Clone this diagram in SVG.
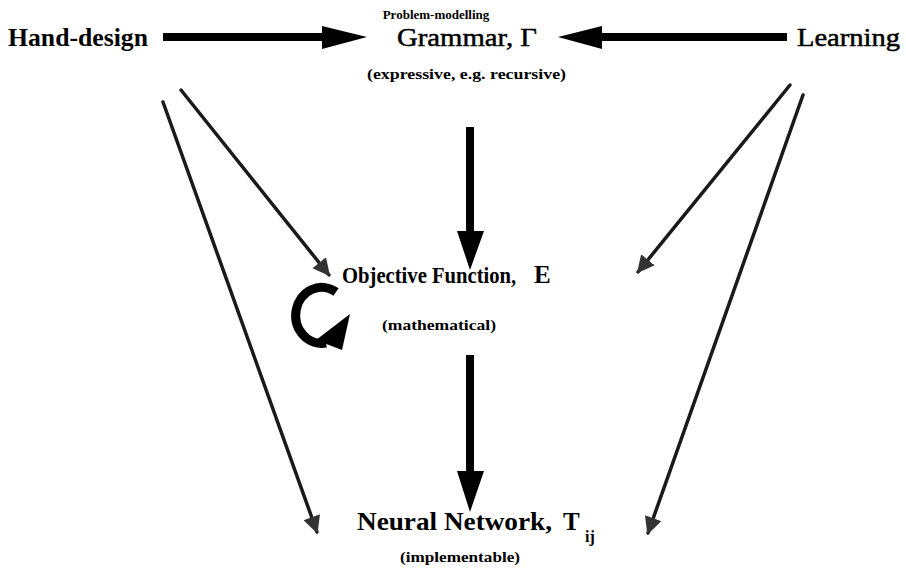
<svg xmlns="http://www.w3.org/2000/svg" width="906" height="583" viewBox="0 0 906 583">
<style>
text{font-family:"Liberation Serif","Times New Roman",serif;fill:#000}
.big{font-size:25px;font-weight:bold}
.reg{font-size:26px;font-weight:normal;stroke:#000;stroke-width:0.5}
.small{font-size:14px;font-weight:bold}
.thin{stroke:#1a1a1a;stroke-width:3.5;fill:none;stroke-linecap:round}
.thick{fill:#000}
</style>
<defs>
<marker id="ah" viewBox="0 0 10 10" refX="9" refY="5" markerWidth="5" markerHeight="5" orient="auto" markerUnits="strokeWidth">
<path d="M0,0 L10,5 L0,10 z" fill="#333"/>
</marker>
</defs>
<rect width="906" height="583" fill="#fff"/>
<g id="grammar">
<text class="small" x="436" y="19" text-anchor="middle" style="font-size:13px">Problem-modelling</text>
<text class="reg" x="397" y="46" textLength="140" lengthAdjust="spacingAndGlyphs">Grammar, Γ</text>
<text class="small" x="367" y="79" textLength="199" lengthAdjust="spacingAndGlyphs">(expressive, e.g. recursive)</text>
</g>
<g id="hand-design">
<text class="big" x="8" y="46" textLength="140" lengthAdjust="spacingAndGlyphs">Hand-design</text>
</g>
<g id="learning">
<text class="reg" x="797" y="46" textLength="103" lengthAdjust="spacingAndGlyphs">Learning</text>
</g>
<g id="objective">
<text class="big" transform="translate(342,283) scale(0.86,1)" style="font-size:24px">Objective Function,</text>
<text class="big" x="534" y="283">E</text>
<text class="small" x="382" y="330" textLength="114" lengthAdjust="spacingAndGlyphs">(mathematical)</text>
</g>
<g id="neural">
<text class="big" x="357" y="530" textLength="195" lengthAdjust="spacingAndGlyphs">Neural Network,</text>
<text class="big" x="563" y="530">T</text>
<text class="small" x="585" y="542" style="font-size:16px">ij</text>
<text class="small" x="400" y="562" textLength="120" lengthAdjust="spacingAndGlyphs">(implementable)</text>
</g>
<g id="connectors">
<path class="thick" d="M163,33 L322,33 L322,26 L367,37 L322,49 L322,41 L163,41 z"/>
<path class="thick" d="M787,33 L602,33 L602,26 L558,37 L602,49 L602,41 L787,41 z"/>
<path class="thick" d="M466,127 L474,127 L474,231 L484,231 L470,270 L457,231 L466,231 z"/>
<path class="thick" d="M466,355 L474,355 L474,471 L484,471 L470,512 L457,471 L466,471 z"/>
<line class="thin" x1="181" y1="90" x2="329" y2="275" marker-end="url(#ah)"/>
<line class="thin" x1="163" y1="102" x2="317" y2="532" marker-end="url(#ah)"/>
<line class="thin" x1="790" y1="85" x2="638" y2="272" marker-end="url(#ah)"/>
<line class="thin" x1="803" y1="95" x2="648" y2="533" marker-end="url(#ah)"/>
<path d="M336,292 A26,28 0 1 0 326,343" fill="none" stroke="#000" stroke-width="9"/>
<path d="M350,314 L342,350 L316,340 z" fill="#000"/>
</g>
</svg>
